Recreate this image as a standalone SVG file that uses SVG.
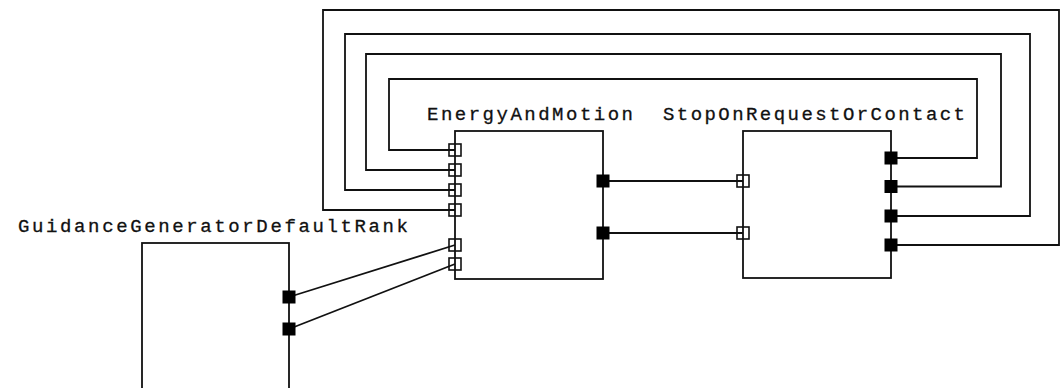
<svg xmlns="http://www.w3.org/2000/svg" width="1062" height="388" viewBox="0 0 1062 388">
  <style>
    .box { fill: #ffffff; stroke: #111111; stroke-width: 1.8; }
    .wire { fill: none; stroke: #111111; stroke-width: 1.8; }
    .in { fill: none; stroke: #111111; stroke-width: 1.6; }
    .out { fill: #000000; stroke: #000000; stroke-width: 1; }
    .label { font-family: "Liberation Mono", "DejaVu Sans Mono", monospace; font-size: 19px; fill: #111111; stroke: #111111; stroke-width: 0.3; }
  </style>
  <rect width="1062" height="388" fill="#ffffff"/>

  <g id="connectors">
    <!-- feedback loops: StopOnRequestOrContact outputs back to EnergyAndMotion inputs -->
    <polyline class="wire" points="891,158 977,158 977,79 389,79 389,150 455,150"/>
    <polyline class="wire" points="891,186.5 1001,186.5 1001,54 366,54 366,170 455,170"/>
    <polyline class="wire" points="891,216 1030,216 1030,34 345,34 345,190 455,190"/>
    <polyline class="wire" points="891,245 1059,245 1059,10 323,10 323,210 455,210"/>
    <!-- EnergyAndMotion outputs to StopOnRequestOrContact inputs -->
    <line class="wire" x1="603" y1="181" x2="743" y2="181"/>
    <line class="wire" x1="603" y1="233" x2="743" y2="233"/>
    <!-- GuidanceGeneratorDefaultRank outputs to EnergyAndMotion inputs -->
    <line class="wire" x1="289" y1="297" x2="455" y2="245"/>
    <line class="wire" x1="289" y1="329" x2="455" y2="264"/>
  </g>

  <g id="EnergyAndMotion">
    <text class="label" x="427" y="120" textLength="206" lengthAdjust="spacing">EnergyAndMotion</text>
    <rect class="box" x="455" y="131" width="148" height="148"/>
    <rect class="in" x="449" y="144" width="12" height="12"/>
    <rect class="in" x="449" y="164" width="12" height="12"/>
    <rect class="in" x="449" y="184" width="12" height="12"/>
    <rect class="in" x="449" y="204" width="12" height="12"/>
    <rect class="in" x="449" y="239" width="12" height="12"/>
    <rect class="in" x="449" y="258" width="12" height="12"/>
    <rect class="out" x="597" y="175" width="12" height="12"/>
    <rect class="out" x="597" y="227" width="12" height="12"/>
  </g>

  <g id="StopOnRequestOrContact">
    <text class="label" x="663" y="120" textLength="302" lengthAdjust="spacing">StopOnRequestOrContact</text>
    <rect class="box" x="743" y="131" width="148" height="147"/>
    <rect class="in" x="737" y="175" width="12" height="12"/>
    <rect class="in" x="737" y="227" width="12" height="12"/>
    <rect class="out" x="885" y="152" width="12" height="12"/>
    <rect class="out" x="885" y="180.5" width="12" height="12"/>
    <rect class="out" x="885" y="210" width="12" height="12"/>
    <rect class="out" x="885" y="239" width="12" height="12"/>
  </g>

  <g id="GuidanceGeneratorDefaultRank">
    <text class="label" x="18" y="232" textLength="390" lengthAdjust="spacing">GuidanceGeneratorDefaultRank</text>
    <rect class="box" x="142" y="243" width="147" height="180"/>
    <rect class="out" x="283" y="291" width="12" height="12"/>
    <rect class="out" x="283" y="323" width="12" height="12"/>
  </g>
</svg>
